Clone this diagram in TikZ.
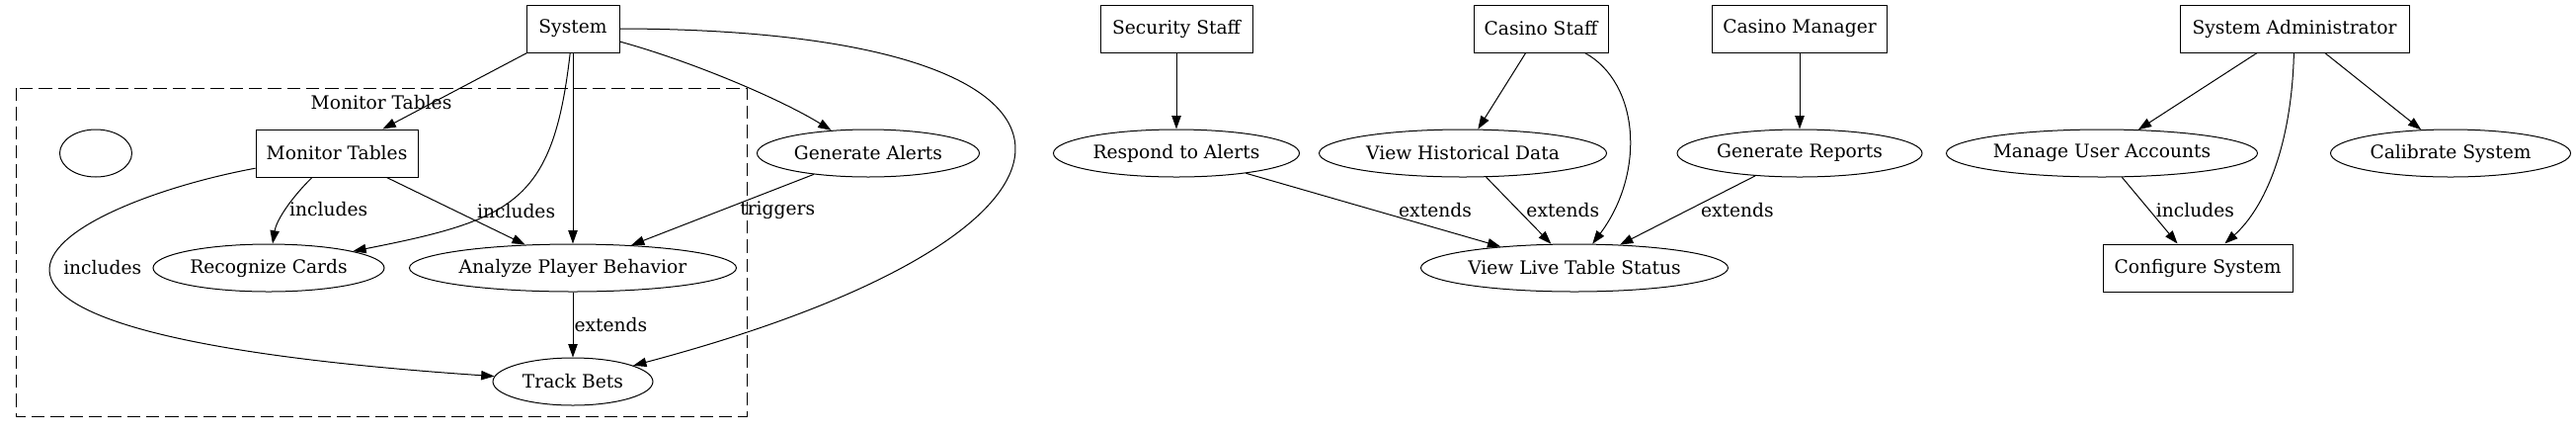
\documentclass[tikz,border=0pt]{standalone}
\usepackage{fontspec}
\setmainfont{DejaVu Serif}
\usetikzlibrary{shapes.geometric,arrows.meta}

\tikzset{
  actor/.style={draw, rectangle, minimum height=36pt, inner sep=2pt, line width=0.75pt},
  usecase/.style={draw, ellipse, minimum height=36pt, inner sep=0pt, line width=0.75pt},
  arr/.style={-{Triangle[length=10pt,width=7pt]}, line width=0.75pt},
  lbl/.style={inner sep=0pt, anchor=west},
  cluster/.style={line width=0.75pt, dash pattern=on 10pt off 4.5pt}
}

\begin{document}
\begin{tikzpicture}[x=0.75pt,y=-0.75pt,font=\fontsize{14pt}{17pt}\selectfont]
  \useasboundingbox (0,0) rectangle (2608,437);

  \draw[cluster] (16,89) rectangle (756,421);
  \node (clustername) at (386,104) {Monitor Tables};

  \node[actor, minimum width=70.5pt] (system) at (580,29) {System};
  \node[usecase, minimum width=54.75pt] (blank) at (97,155) {};
  \node[actor, minimum width=123pt] (montables) at (341,155) {Monitor Tables};
  \node[usecase, minimum width=175.5pt] (cards) at (272,271) {Recognize Cards};
  \node[usecase, minimum width=248.25pt] (analyze) at (580,271) {Analyze Player Behavior};
  \node[usecase, minimum width=121.5pt] (trackbets) at (580,386) {Track Bets};
  \node[usecase, minimum width=168.75pt] (genalerts) at (879,155) {Generate Alerts};

  \node[actor, minimum width=115.5pt] (security) at (1191,29) {Security Staff};
  \node[usecase, minimum width=186.75pt] (respond) at (1191,155) {Respond to Alerts};
  \node[actor, minimum width=102pt] (staff) at (1560,29) {Casino Staff};
  \node[usecase, minimum width=218.25pt] (history) at (1481,155) {View Historical Data};
  \node[usecase, minimum width=233.25pt] (livestatus) at (1594,271) {View Live Table Status};
  \node[actor, minimum width=132.75pt] (manager) at (1822,29) {Casino Manager};
  \node[usecase, minimum width=186pt] (reports) at (1822,155) {Generate Reports};

  \node[actor, minimum width=174pt] (admin) at (2323,29) {System Administrator};
  \node[usecase, minimum width=236.25pt] (accounts) at (2128,155) {Manage User Accounts};
  \node[usecase, minimum width=182.25pt] (calibrate) at (2481,155) {Calibrate System};
  \node[actor, minimum width=144pt] (configure) at (2225,271) {Configure System};

  \draw[arr] (system) -- (montables);
  \draw[arr] (system) .. controls (560,205) and (520,222) .. (cards);
  \draw[arr] (system) -- (analyze);
  \draw[arr] (system) .. controls (700,62) and (790,100) .. (genalerts);
  \draw[arr] (system.east) .. controls (1157,30) and (1157,233) .. (trackbets);
  \draw[arr] (montables) .. controls (296,199) and (280,222) .. (cards)
    node[lbl, pos=0.5, xshift=2pt] {includes};
  \draw[arr] (montables) -- node[lbl, xshift=15.75pt] {includes} (analyze);
  \draw[arr] (montables) .. controls (70,205) and (-185,334) .. (trackbets)
    node[lbl, pos=0.5, xshift=9pt] {includes};
  \draw[arr] (analyze) -- node[lbl, xshift=0.75pt] {extends} (trackbets);
  \draw[arr] (genalerts) -- node[lbl, xshift=13pt] {triggers} (analyze);

  \draw[arr] (security) -- (respond);
  \draw[arr] (staff) -- (history);
  \draw[arr] (staff) .. controls (1660,84) and (1666,175) .. (livestatus);
  \draw[arr] (manager) -- (reports);
  \draw[arr] (respond) -- node[lbl, xshift=19pt] {extends} (livestatus);
  \draw[arr] (history) -- node[lbl, xshift=5.6pt] {extends} (livestatus);
  \draw[arr] (reports) -- node[lbl, xshift=9.75pt] {extends} (livestatus);

  \draw[arr] (admin) -- (accounts);
  \draw[arr] (admin) .. controls (2320,150) and (2292,211) .. (configure);
  \draw[arr] (admin) -- (calibrate);
  \draw[arr] (accounts) -- node[lbl, xshift=4.5pt] {includes} (configure);
\end{tikzpicture}
\end{document}
